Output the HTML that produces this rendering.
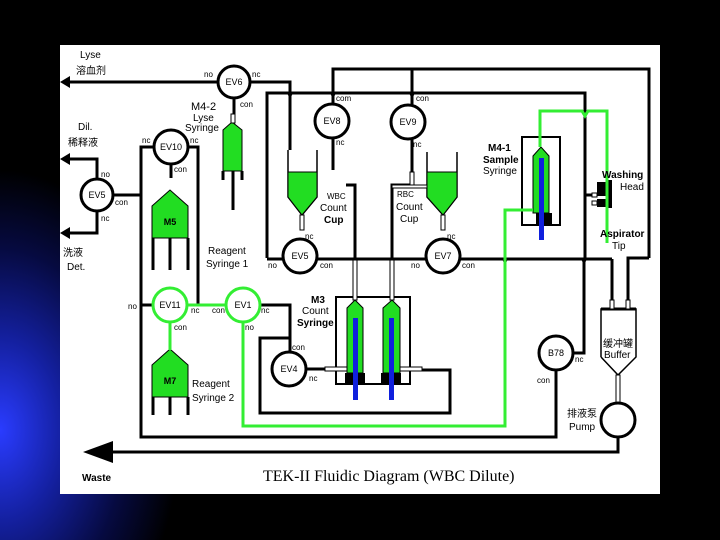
<!DOCTYPE html>
<html><head><meta charset="utf-8"><style>
html,body{margin:0;padding:0;width:720px;height:540px;overflow:hidden;background:#000;}
.bg{position:absolute;left:0;top:0;width:720px;height:540px;
background:radial-gradient(ellipse 180px 260px at 0px 430px,#2a3cff 0%,#1420a0 35%,#060a40 70%,#000 100%);}
svg{position:absolute;left:0;top:0;}
text{font-family:"Liberation Sans","Noto Sans CJK SC",sans-serif;fill:#000;}
</style></head><body><div class="bg"></div>
<svg width="720" height="540" viewBox="0 0 720 540">
<rect x="60" y="45" width="600" height="449" fill="#fff"/>
<g stroke="#000" stroke-width="3" fill="none">
<!-- lysa -->
<line x1="66" y1="82" x2="218" y2="82"/>
<polyline points="250,82 290,82 290,150"/>
<!-- top outer -->
<polyline points="333,105 333,69 649,69 649,258"/>
<line x1="412" y1="69" x2="412" y2="106"/>
<!-- top bus -->
<polyline points="267,258 267,93 585,93 585,258"/>
<line x1="333" y1="137" x2="333" y2="170"/>
<polyline points="412,138 412,172"/>
<polyline points="392,260 392,185 412,185"/>
<polyline points="346,185 355,185 355,260"/>
<!-- bus -->
<line x1="267" y1="259" x2="283" y2="259"/>
<line x1="317" y1="259" x2="426" y2="259"/>
<line x1="460" y1="259" x2="612" y2="259"/>
<polyline points="612,259 612,300"/>
<polyline points="649,258 628,258 628,300"/>
<line x1="585" y1="195" x2="592" y2="195"/>
<!-- Dil / Det -->
<polyline points="66,159 97,159 97,179"/>
<polyline points="66,233 97,233 97,211"/>
<polyline points="113,195 141,195"/>
<!-- EV10 -->
<polyline points="154,147 141,147 141,437 556,437 556,370"/>
<polyline points="188,147 198,147 198,305"/>
<line x1="171" y1="164" x2="171" y2="178"/>
<!-- M5 legs -->
<line x1="153" y1="238" x2="153" y2="270"/><line x1="170" y1="238" x2="170" y2="270"/><line x1="188" y1="238" x2="188" y2="270"/>
<!-- lyse syringe -->
<line x1="234" y1="98" x2="234" y2="114"/>
<line x1="223" y1="171" x2="223" y2="180"/><line x1="242" y1="171" x2="242" y2="180"/><line x1="233" y1="171" x2="233" y2="210"/>
<!-- M7 legs -->
<line x1="153" y1="397" x2="153" y2="415"/><line x1="170" y1="397" x2="170" y2="415"/><line x1="188" y1="397" x2="188" y2="415"/>
<line x1="140" y1="305" x2="153" y2="305"/>
<!-- EV1 to EV7 -->
<polyline points="260,305 290,305 290,352"/>
<polyline points="290,338 260,338 260,413 450,413 450,370 422,370"/>
<line x1="306" y1="369" x2="325" y2="369"/>
<!-- M3 box -->
<rect x="336" y="297" width="74" height="87" stroke-width="2"/>
<!-- B78 -->
<polyline points="584,260 584,353 573,353"/>
<!-- waste -->
<polyline points="618,437 618,452 112,452"/>
<!-- sample box -->
<rect x="522" y="137" width="38" height="88" stroke-width="2"/>
<!-- cups -->
<polyline points="288,150 288,197 302,215 317,197 317,150" stroke-width="1.5"/>
<polyline points="427,152 427,197 443,215 457,197 457,152" stroke-width="1.5"/>
<polyline points="601,357 601,309 636,309 636,357 618,375 601,357" stroke-width="1.5"/>
<line x1="601" y1="309" x2="636" y2="309" stroke-width="3"/>
</g>
<!-- funnel junction marks -->
<g fill="#000">
<polygon points="287,93 293,93 290,99"/><polygon points="330,93 336,93 333,99"/><polygon points="409,93 415,93 412,99"/>
<polygon points="352,259 358,259 355,265"/><polygon points="389,259 395,259 392,265"/><polygon points="502,259 508,259 505,265"/><polygon points="581,259 587,259 584,265"/>
<polygon points="60,82 70,76 70,88"/><polygon points="60,159 70,153 70,165"/><polygon points="60,233 70,227 70,239"/>
<polygon points="83,452 113,441 113,463"/>
<rect x="597" y="182" width="9" height="14"/><rect x="606" y="180" width="6" height="28"/><rect x="597" y="199" width="9" height="8"/>
<rect x="536" y="213" width="16" height="12"/>
<rect x="345" y="373" width="20" height="11"/><rect x="381" y="373" width="20" height="11"/>
</g>
<!-- green fills -->
<g fill="#22dd22" stroke="#000" stroke-width="1">
<polygon points="288,172 317,172 317,197 302,215 288,197"/>
<polygon points="427,172 457,172 457,197 443,215 427,197"/>
<polygon points="152,206 170,190 188,206 188,238 152,238"/>
<polygon points="152,365 170,349 188,365 188,397 152,397"/>
<polygon points="223,130 232,122 242,130 242,171 223,171"/>
<polygon points="533,156 541,147 549,156 549,213 533,213"/>
<polygon points="347,308 355,300 363,308 363,373 347,373"/>
<polygon points="383,308 392,300 400,308 400,373 383,373"/>
</g>
<g fill="#fff" stroke="#000" stroke-width="1">
<rect x="300" y="215" width="4" height="15"/><rect x="441" y="215" width="4" height="15"/>
<rect x="231" y="114" width="4" height="9"/>
<rect x="353" y="260" width="4" height="40"/><rect x="390" y="260" width="4" height="40"/>
<rect x="325" y="367" width="22" height="4"/><rect x="400" y="367" width="22" height="4"/>
<rect x="616" y="375" width="4" height="28"/>
<rect x="610" y="300" width="4" height="9"/><rect x="626" y="300" width="4" height="9"/>
<rect x="592" y="193" width="5" height="4"/><rect x="592" y="201" width="5" height="4"/>
<rect x="392" y="185" width="35" height="3"/><rect x="410" y="172" width="4" height="13"/>
</g>
<g fill="#1020dd"><rect x="539" y="158" width="5" height="82"/><rect x="353" y="318" width="5" height="82"/><rect x="389" y="318" width="5" height="82"/></g>
<!-- green lines -->
<g stroke="#33ee33" stroke-width="3" fill="none">
<polyline points="540,147 540,111 582,111 585,116 588,111 607,111 607,243"/>
<polyline points="533,210 505,210 505,426 243,426 243,322"/>
<line x1="187" y1="305" x2="226" y2="305"/>
<line x1="170" y1="322" x2="170" y2="350"/>
</g>
<!-- circles -->
<g fill="#fff" stroke="#000" stroke-width="3">
<circle cx="234" cy="82" r="16"/><circle cx="332" cy="121" r="17"/><circle cx="408" cy="122" r="17"/>
<circle cx="171" cy="147" r="17"/><circle cx="97" cy="195" r="16"/>
<circle cx="300" cy="256" r="17"/><circle cx="443" cy="256" r="17"/>
<circle cx="289" cy="369" r="17"/><circle cx="556" cy="353" r="17"/><circle cx="618" cy="420" r="17"/>
</g>
<g fill="#fff" stroke="#33ee33" stroke-width="3"><circle cx="170" cy="305" r="17"/><circle cx="243" cy="305" r="17"/></g>
<!-- labels -->
<g font-size="9" text-anchor="middle">
<text x="234" y="85">EV6</text><text x="332" y="124">EV8</text><text x="408" y="125">EV9</text>
<text x="171" y="150">EV10</text><text x="97" y="198">EV5</text><text x="300" y="259">EV5</text><text x="443" y="259">EV7</text>
<text x="170" y="308">EV11</text><text x="243" y="308">EV1</text><text x="289" y="372">EV4</text><text x="556" y="356">B78</text>
<text x="170" y="225" font-weight="bold">M5</text><text x="170" y="384" font-weight="bold">M7</text>
</g>
<g font-size="8">
<text x="204" y="77">no</text><text x="252" y="77">nc</text><text x="240" y="107">con</text>
<text x="336" y="101">com</text><text x="336" y="145">nc</text><text x="416" y="101">con</text><text x="413" y="147">nc</text>
<text x="142" y="143">nc</text><text x="190" y="143">nc</text><text x="174" y="172">con</text>
<text x="101" y="177">no</text><text x="115" y="205">con</text><text x="101" y="221">nc</text>
<text x="305" y="239">nc</text><text x="268" y="268">no</text><text x="320" y="268">con</text>
<text x="447" y="239">nc</text><text x="411" y="268">no</text><text x="462" y="268">con</text>
<text x="128" y="309">no</text><text x="191" y="313">nc</text><text x="212" y="313">con</text><text x="261" y="313">nc</text>
<text x="174" y="330">con</text><text x="245" y="330">no</text><text x="292" y="350">con</text><text x="309" y="381">nc</text>
<text x="575" y="362">nc</text><text x="537" y="383">con</text>
</g>
<g font-size="10">
<text x="80" y="58">Lyse</text><text x="76" y="74">溶血剂</text>
<text x="78" y="130">Dil.</text><text x="68" y="146">稀释液</text>
<text x="63" y="256">洗液</text><text x="67" y="270">Det.</text>
<text x="191" y="110" font-size="11">M4-2</text><text x="193" y="121">Lyse</text><text x="185" y="131">Syringe</text>
<text x="208" y="254">Reagent</text><text x="206" y="267">Syringe 1</text>
<text x="192" y="387">Reagent</text><text x="192" y="401">Syringe 2</text>
<text x="327" y="199" font-size="8">WBC</text><text x="320" y="211">Count</text><text x="324" y="223" font-weight="bold">Cup</text>
<text x="397" y="197" font-size="8">RBC</text><text x="396" y="210">Count</text><text x="400" y="222">Cup</text>
<text x="311" y="303" font-weight="bold">M3</text><text x="302" y="314">Count</text><text x="297" y="326" font-weight="bold">Syringe</text>
<text x="488" y="151" font-weight="bold">M4-1</text><text x="483" y="163" font-weight="bold">Sample</text><text x="483" y="174">Syringe</text>
<text x="602" y="178" font-weight="bold">Washing</text><text x="620" y="190">Head</text>
<text x="600" y="237" font-weight="bold">Aspirator</text><text x="612" y="249">Tip</text>
<text x="603" y="347">缓冲罐</text><text x="604" y="358">Buffer</text>
<text x="567" y="417">排液泵</text><text x="569" y="430">Pump</text>
<text x="82" y="481" font-weight="bold">Waste</text>
</g>
<text x="263" y="481" font-size="16" style="font-family:'Liberation Serif',serif">TEK-II  Fluidic Diagram  (WBC Dilute)</text>
</svg>
</body></html>
